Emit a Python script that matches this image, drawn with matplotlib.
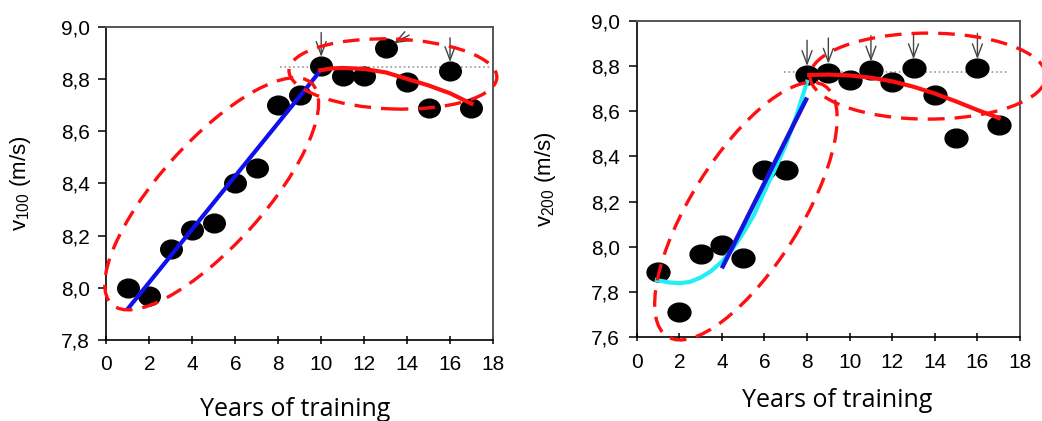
import matplotlib
matplotlib.use("Agg")
import matplotlib.pyplot as plt
import matplotlib.transforms as mtransforms
from matplotlib.patches import Ellipse
from matplotlib.markers import MarkerStyle
import numpy as np

plt.rcParams['font.family'] = ['Liberation Sans', 'DejaVu Sans']
plt.rcParams['mathtext.fontset'] = 'custom'
plt.rcParams['mathtext.rm'] = 'Liberation Sans'
plt.rcParams['mathtext.it'] = 'Liberation Sans:italic'

# data
years = np.arange(1, 18)
v100 = [8.00, 7.97, 8.15, 8.22, 8.25, 8.40, 8.46, 8.70, 8.74, 8.85,
        8.81, 8.81, 8.92, 8.79, 8.69, 8.83, 8.69]
v200 = [7.89, 7.71, 7.97, 8.01, 7.95, 8.34, 8.34, 8.76, 8.77, 8.74,
        8.78, 8.73, 8.79, 8.67, 8.48, 8.79, 8.54]

# trend lines (v100)
lin100_x = [0.95, 9.95]
lin100_y = [7.915, 8.83]
curve100_x = [9.95, 10.5, 11, 12, 13, 14, 15, 16, 17]
curve100_y = [8.833, 8.840, 8.842, 8.838, 8.825, 8.800, 8.775, 8.745, 8.705]
plateau100 = 8.845

# trend lines (v200)
lin200_x = [4.0, 8.0]
lin200_y = [7.905, 8.66]
cyan200_x = [0.95, 1.5, 2, 2.5, 3, 3.5, 4, 4.5, 5, 5.5, 6, 6.5, 7, 7.5, 8]
cyan200_y = [7.853, 7.843, 7.839, 7.845, 7.864, 7.893, 7.935, 7.99, 8.06,
             8.14, 8.245, 8.345, 8.45, 8.58, 8.73]
curve200_x = [8.1, 9, 10, 11, 12, 13, 14, 15, 16, 17]
curve200_y = [8.76, 8.762, 8.758, 8.748, 8.732, 8.708, 8.678, 8.643, 8.605, 8.57]
plateau200 = 8.775

# arrow marked years
arrows100 = [10, 13, 16]
arrows200 = [8, 9, 11, 13, 16]

fig = plt.figure(figsize=(10.42, 4.21), dpi=100)
axL = fig.add_axes([0.1022, 0.1924, 0.3709, 0.7442])
axR = fig.add_axes([0.6110, 0.1988, 0.3679, 0.7520])

arrow_kw = dict(arrowstyle='->,head_length=0.8,head_width=0.3',
                color='#444444', lw=1.0, shrinkA=0, shrinkB=6.5,
                mutation_scale=12)


def ring(ax, cx, cy, w, h, ang):
    tr = fig.dpi_scale_trans + mtransforms.ScaledTranslation(cx, cy, ax.transData)
    e = Ellipse((0, 0), w / 100, h / 100, angle=ang, transform=tr, fill=False,
                ec='#ff1010', lw=2.4, ls=(0, (5, 3)), clip_on=False, zorder=6)
    ax.add_patch(e)


def style(ax, yticks, ylab, lx):
    ax.set_xlim(0, 18)
    ax.set_ylim(yticks[0], yticks[-1])
    ax.set_xticks(range(0, 19, 2))
    ax.set_yticks(yticks)
    ax.set_yticklabels([('%.1f' % t).replace('.', ',') for t in yticks])
    ax.tick_params(axis='x', direction='inout', length=6, width=1.1, pad=8,
                   labelsize=15)
    ax.tick_params(axis='y', direction='out', length=6, width=1.1, pad=6,
                   labelsize=15)
    for s in ['left', 'bottom']:
        ax.spines[s].set_color('black')
        ax.spines[s].set_linewidth(1.2)
    for s in ['top', 'right']:
        ax.spines[s].set_color('#555555')
        ax.spines[s].set_linewidth(1.4)
    ax.set_ylabel(ylab, fontsize=16)
    ax.yaxis.set_label_coords(lx, 0.5)


mk = MarkerStyle('o', transform=mtransforms.Affine2D().scale(1.15, 1.0))
mk2 = MarkerStyle('o', transform=mtransforms.Affine2D().scale(1.22, 1.0))

# ---- left panel
ax = axL
ax.plot([8.1, 18], [plateau100, plateau100], ls=':', color='#999999', lw=1.2, zorder=1)
ax.plot(years, v100, ls='none', marker=mk, ms=13.5, color='black', zorder=3)
ax.plot(lin100_x, lin100_y, color='#1010ee', lw=3, zorder=4, solid_capstyle='butt')
ax.plot(curve100_x, curve100_y, color='#ff1010', lw=3, zorder=5)
for yr in arrows100:
    off = (17, 9) if yr == 13 else (0, 24)
    ax.annotate('', xy=(yr, v100[yr - 1]), xytext=off, textcoords='offset points',
                arrowprops=arrow_kw, zorder=4)
ring(ax, 4.9, 8.36, 298, 104, 48)
ring(ax, 13.34, 8.819, 208, 70, -2)
style(ax, [7.8, 8.0, 8.2, 8.4, 8.6, 8.8, 9.0], 'v$_{100}$ (m/s)', -0.19)
ax.set_xlabel('Years of training', fontsize=18, family=['Open Sans', 'DejaVu Sans'])
ax.xaxis.set_label_coords(0.487, -0.183)

# ---- right panel
ax = axR
ax.plot([6.9, 17.5], [plateau200, plateau200], ls=':', color='#999999', lw=1.2, zorder=1)
ax.plot(years, v200, ls='none', marker=mk2, ms=13.5, color='black', zorder=3)
ax.plot(cyan200_x, cyan200_y, color='#22eef5', lw=3, zorder=4)
ax.plot(lin200_x, lin200_y, color='#1414dd', lw=3.2, zorder=4, solid_capstyle='butt')
ax.plot(curve200_x, curve200_y, color='#ff1010', lw=3, zorder=5)
for yr in arrows200:
    ax.annotate('', xy=(yr, v200[yr - 1]), xytext=(0, 25), textcoords='offset points',
                arrowprops=arrow_kw, zorder=4)
ring(ax, 5.13, 8.158, 296, 110, 58)
ring(ax, 13.68, 8.755, 236, 86, 0)
style(ax, [7.6, 7.8, 8.0, 8.2, 8.4, 8.6, 8.8, 9.0], 'v$_{200}$ (m/s)', -0.205)
ax.set_xlabel('Years of training', fontsize=18, family=['Open Sans', 'DejaVu Sans'])
ax.xaxis.set_label_coords(0.524, -0.16)

fig.savefig('out.png', dpi=100)
